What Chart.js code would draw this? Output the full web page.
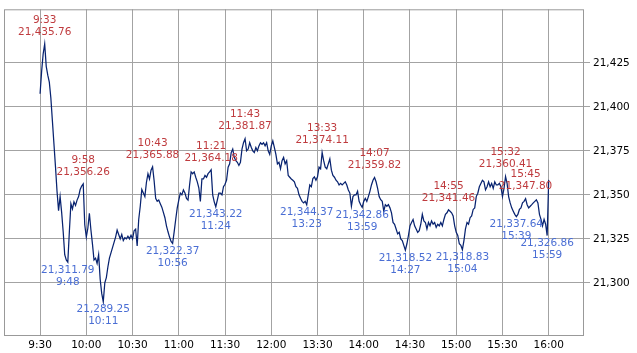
<!DOCTYPE html>
<html lang="en">
<head>
  <meta charset="UTF-8">
  <title>Intraday index</title>
  <script src="https://cdn.jsdelivr.net/npm/chart.js"></script>
  <style>
    body {
      margin: 0;
      padding: 0;
      background: #ffffff;
    }
    canvas {
      display: block;
    }
  </style>
</head>
<body>
  <canvas id="chart" width="637" height="353"></canvas>

  <script>
    // one value per trading minute, 9:30 .. 12:00 then 13:01 .. 16:00 (lunch break folded out)
    const minuteValues = [
      21407.4, 21420, 21430, 21435.76, 21423, 21418, 21414, 21405, 21392, 21379,
      21366, 21352, 21341, 21349, 21340, 21329, 21316, 21313, 21311.79, 21329,
      21345, 21342, 21346, 21344, 21347, 21349, 21353, 21355, 21356.26, 21333,
      21326, 21331, 21339.5, 21330, 21322, 21313, 21314, 21311, 21316, 21302,
      21294, 21289.25, 21300, 21303, 21309, 21314, 21317, 21320, 21323, 21326,
      21330, 21327.5, 21325, 21327.5, 21324, 21325.6, 21325, 21326.5, 21325, 21327,
      21325, 21329.6, 21330.5, 21321, 21336, 21343.5, 21353, 21351, 21349, 21357,
      21362, 21359, 21364, 21365.88, 21358, 21348, 21346.3, 21347, 21345, 21343,
      21340, 21337, 21332.4, 21329, 21326, 21323.5, 21322.37, 21329, 21336, 21342.6,
      21347, 21351, 21350, 21352.8, 21351, 21348, 21347, 21355.6, 21363, 21362,
      21363, 21360, 21357.4, 21354, 21346.3, 21359, 21359, 21361, 21360, 21362,
      21363, 21364.18, 21350, 21346, 21343.22, 21347, 21351, 21351, 21350, 21354.6,
      21356, 21358.3, 21365.7, 21367.6, 21374, 21376, 21371.3, 21369.4, 21368.5, 21366.7,
      21368.5, 21376, 21379.6, 21381.87, 21375, 21376, 21379.6, 21377, 21375, 21374,
      21376.9, 21375, 21377.8, 21379.6, 21378.7, 21379.6, 21377.8, 21379.6, 21375, 21373,
      21377.8, 21380.6, 21376.9, 21373, 21367.6, 21368.5, 21364.8, 21369.4, 21371.3, 21367.6,
      21369.4, 21361, 21360, 21359, 21358.3, 21357.4, 21354.6, 21353.7, 21350, 21348,
      21346.3, 21345.4, 21346.3, 21344.37, 21350, 21355.6, 21354.6, 21359.3, 21360.2, 21358.3,
      21360.2, 21365.7, 21364.8, 21374.11, 21369.4, 21365.7, 21364.8, 21367.6, 21370.4, 21364,
      21361, 21360, 21358.3, 21357.4, 21355.6, 21356.5, 21355.6, 21356.5, 21357.4, 21355.6,
      21352.8, 21351, 21343.5, 21349, 21350, 21350, 21352, 21346.3, 21344.4, 21342.86,
      21346.3, 21348, 21346.3, 21349, 21352, 21355.6, 21358.3, 21359.82, 21357.4, 21353.7,
      21349, 21347.2, 21346.3, 21340.7, 21344.4, 21343.5, 21344.4, 21342.6, 21339.8, 21334.3,
      21333.3, 21330.6, 21327.8, 21328.7, 21325, 21324, 21321.3, 21318.52, 21322.2, 21326.9,
      21332.4, 21334.3, 21336, 21332.4, 21330.6, 21328.7, 21329.6, 21333.3, 21338.9, 21335.2,
      21334.3, 21330.6, 21334.3, 21332.4, 21335.2, 21333.3, 21334.3, 21331.5, 21333.3, 21332.4,
      21334.3, 21332.4, 21336, 21338.9, 21339.8, 21341.46, 21340.7, 21339.8, 21338, 21332.4,
      21328.7, 21326.9, 21322.2, 21321.3, 21318.83, 21324, 21330.6, 21334.3, 21333.3, 21337,
      21338, 21341.7, 21342.6, 21349, 21350.9, 21354.6, 21356.5, 21358.3, 21357.4, 21352.8,
      21354.6, 21357.4, 21354.6, 21356.5, 21353.7, 21357.4, 21355.6, 21355.6, 21356.5, 21354.6,
      21349, 21353.7, 21360.41, 21356.5, 21349, 21345.4, 21342.6, 21340.7, 21338.9, 21337.64,
      21338.9, 21341.7, 21342.6, 21345.4, 21346.3, 21347.80, 21344.4, 21342.6, 21343.5, 21344.4,
      21345.4, 21346.3, 21347.2, 21345.4, 21338.9, 21336.1, 21332.4, 21336.1, 21333.3, 21326.86,
      21358.5
    ];

    // marked highs / lows, as trading-minute index into minuteValues
    const highMinutes = [3, 28, 73, 111, 133, 183, 217, 265, 302, 315];
    const lowMinutes = [18, 41, 86, 114, 173, 209, 237, 274, 309, 329];

    const xTickMinutes = [0, 30, 60, 90, 120, 150, 180, 210, 240, 270, 300, 330];
    const xTickLabels = ['9:30', '10:00', '10:30', '11:00', '11:30', '12:00',
                         '13:30', '14:00', '14:30', '15:00', '15:30', '16:00'];
    const yTickValues = [21300, 21325, 21350, 21375, 21400, 21425];

    const corRed = '#bf3b3e';
    const corBlue = '#4a6ed4';
    const corLinha = '#082370';
    const corGrade = '#a3a3a3';
    const fonte = 'DejaVu Sans';

    function minutoParaHora(m) {
      let total = m <= 150 ? 9 * 60 + 30 + m : 13 * 60 + (m - 150);
      const h = Math.floor(total / 60);
      const mm = total % 60;
      return h + ':' + String(mm).padStart(2, '0');
    }

    function formatValor(v) {
      return v.toLocaleString('en-US', { minimumFractionDigits: 2, maximumFractionDigits: 2 });
    }

    const pontos = minuteValues.map((v, i) => ({ x: i, y: v }));

    const moldura = {
      id: 'moldura',
      afterDatasetsDraw(chart) {
        const { ctx, chartArea, scales } = chart;
        const xs = scales.x, ys = scales.y;
        ctx.save();
        ctx.font = '10.5px "' + fonte + '"';
        ctx.textAlign = 'center';
        ctx.textBaseline = 'middle';

        highMinutes.forEach(m => {
          const v = minuteValues[m];
          const px = xs.getPixelForValue(m);
          const py = ys.getPixelForValue(v);
          ctx.fillStyle = corRed;
          ctx.fillText(formatValor(v), px, py - 12);
          ctx.fillText(minutoParaHora(m), px, py - 24);
        });

        lowMinutes.forEach(m => {
          const v = minuteValues[m];
          const px = xs.getPixelForValue(m);
          const py = ys.getPixelForValue(v);
          ctx.fillStyle = corBlue;
          ctx.fillText(formatValor(v), px, py + 8);
          ctx.fillText(minutoParaHora(m), px, py + 20);
        });

        ctx.strokeStyle = '#999999';
        ctx.lineWidth = 1;
        ctx.strokeRect(chartArea.left + 0.5, chartArea.top + 0.5,
                       chartArea.right - chartArea.left - 1, chartArea.bottom - chartArea.top - 1);
        ctx.restore();
      }
    };

    new Chart(document.getElementById('chart').getContext('2d'), {
      type: 'line',
      data: {
        datasets: [{
          data: pontos,
          borderColor: corLinha,
          borderWidth: 1.25,
          pointRadius: 0,
          tension: 0,
          fill: false
        }]
      },
      options: {
        responsive: false,
        animation: false,
        devicePixelRatio: 1,
        layout: { padding: { left: 4, top: 3, right: 0, bottom: 0 } },
        plugins: {
          legend: { display: false },
          tooltip: { enabled: false }
        },
        scales: {
          x: {
            type: 'linear',
            min: -23.4,
            max: 352.9,
            afterBuildTicks(scale) {
              scale.ticks = xTickMinutes.map(v => ({ value: v }));
            },
            afterFit(scale) { scale.height = 17; },
            ticks: {
              autoSkip: false,
              maxRotation: 0,
              padding: 3,
              color: '#000',
              font: { family: fonte, size: 10.5 },
              callback: (v) => xTickLabels[xTickMinutes.indexOf(v)] || ''
            },
            grid: { color: corGrade, drawTicks: false },
            border: { display: false }
          },
          y: {
            position: 'right',
            min: 21269.8,
            max: 21455.4,
            afterBuildTicks(scale) {
              scale.ticks = yTickValues.map(v => ({ value: v }));
            },
            afterFit(scale) { scale.width = 53; },
            ticks: {
              padding: 3,
              color: '#000',
              font: { family: fonte, size: 10.5 },
              callback: (v) => v.toLocaleString('en-US')
            },
            grid: { color: corGrade, tickLength: 6 },
            border: { display: false }
          }
        }
      },
      plugins: [moldura]
    });
  </script>
</body>
</html>
